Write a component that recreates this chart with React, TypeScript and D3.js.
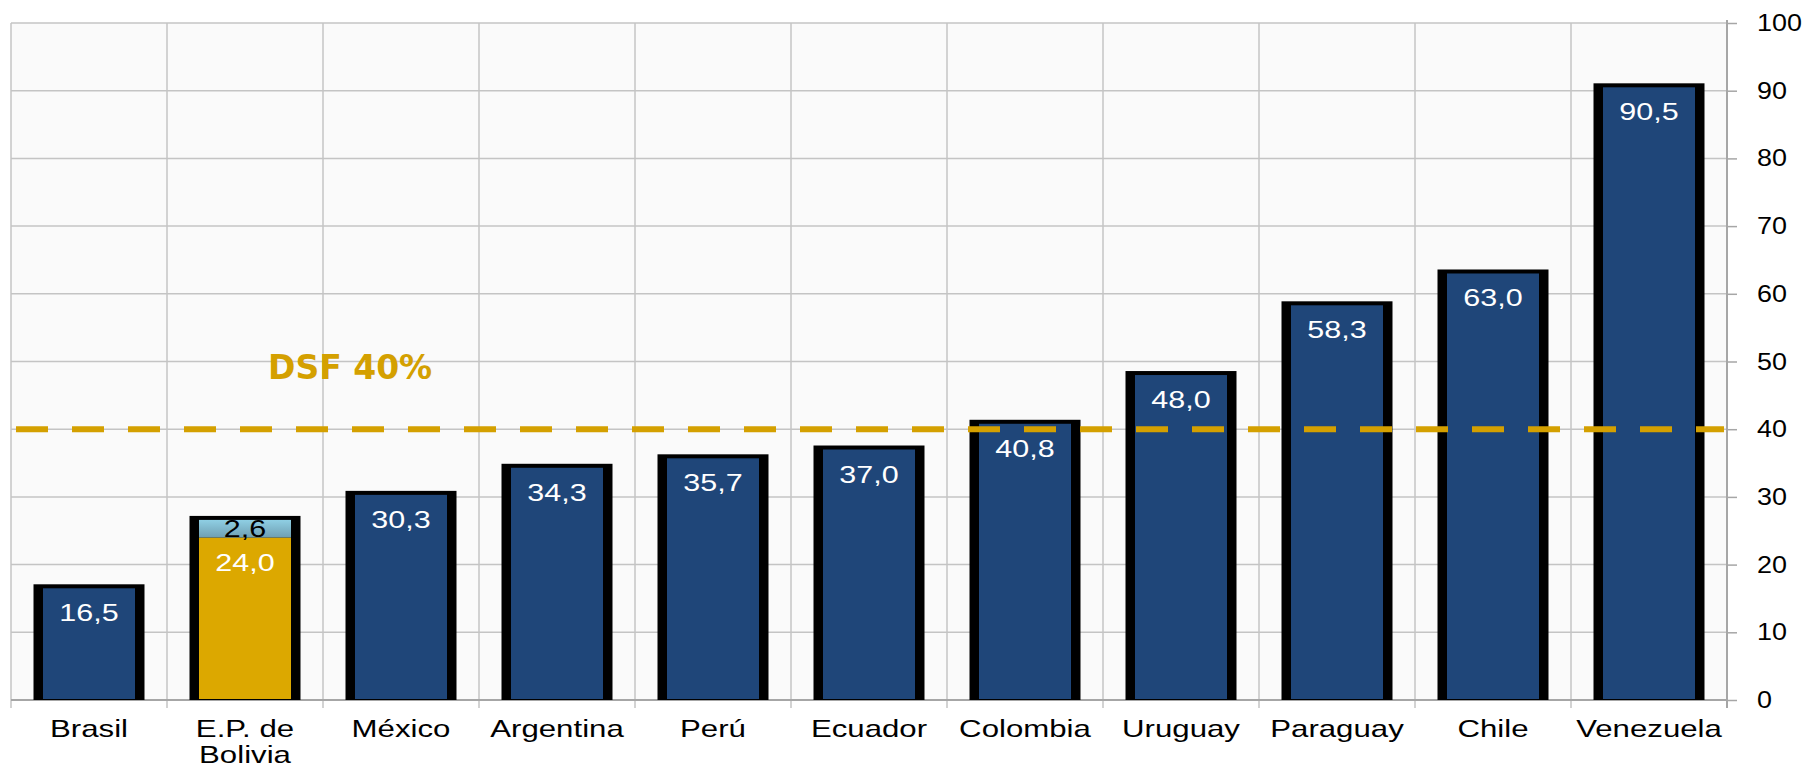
import React, { useEffect, useRef } from 'react';
import * as d3 from 'd3';

const countries = ['Brasil', 'E.P. de\nBolivia', 'México', 'Argentina', 'Perú', 'Ecuador', 'Colombia', 'Uruguay', 'Paraguay', 'Chile', 'Venezuela'];
const baseValues = [16.5, 24.0, 30.3, 34.3, 35.7, 37.0, 40.8, 48.0, 58.3, 63.0, 90.5];
const extraValues = [0, 2.6, 0, 0, 0, 0, 0, 0, 0, 0, 0];
const yTicks = [0, 10, 20, 30, 40, 50, 60, 70, 80, 90, 100];
const threshold = 40;
const thresholdLabel = 'DSF 40%';

const fmt = (v: number) => v.toFixed(1).replace('.', ',');
const FONT = '"Liberation Sans", Arial, sans-serif';

export default function App() {
  const svgRef = useRef<SVGSVGElement>(null);

  useEffect(() => {
    if (!svgRef.current) return;
    const W = 1811, H = 766;
    const left = 11, right = 1727, top = 23, bottom = 700;

    const svg = d3.select(svgRef.current);
    svg.selectAll('*').remove();

    const defs = svg.append('defs');
    const grad = defs.append('linearGradient').attr('id', 'extraGrad')
      .attr('x1', 0).attr('y1', 0).attr('x2', 0).attr('y2', 1);
    grad.append('stop').attr('offset', '0%').attr('stop-color', '#8fcfe4');
    grad.append('stop').attr('offset', '100%').attr('stop-color', '#6f9fb2');

    const x = d3.scaleBand<string>().domain(countries).range([left, right]).padding(0);
    const y = d3.scaleLinear().domain([0, 100]).range([bottom, top]);

    svg.append('rect').attr('x', 0).attr('y', 0).attr('width', W).attr('height', H).attr('fill', '#ffffff');
    svg.append('rect').attr('x', left).attr('y', top).attr('width', right - left).attr('height', bottom - top).attr('fill', '#fafafa');

    // horizontal grid
    svg.append('g').selectAll('line').data(yTicks).enter().append('line')
      .attr('x1', left).attr('x2', right)
      .attr('y1', d => y(d)).attr('y2', d => y(d))
      .attr('stroke', '#c4c4c4').attr('stroke-width', 1.5);

    // vertical grid (band edges)
    const edges = countries.map(c => x(c)!);
    svg.append('g').selectAll('line').data(edges).enter().append('line')
      .attr('x1', d => d).attr('x2', d => d)
      .attr('y1', top).attr('y2', bottom + 8)
      .attr('stroke', '#c4c4c4').attr('stroke-width', 1.5);

    // right axis
    const axis = svg.append('g').attr('transform', `translate(${right},0)`)
      .call(d3.axisRight(y).tickValues(yTicks).tickSize(10).tickPadding(0).tickFormat(() => ''));
    axis.select('.domain').attr('stroke', '#a6a6a6').attr('stroke-width', 2).attr('d', `M0,${top - 3}V${bottom + 8}`);
    axis.selectAll('.tick line').attr('stroke', '#a6a6a6').attr('stroke-width', 1.5);
    svg.append('g').selectAll('text').data(yTicks).enter().append('text')
      .attr('transform', d => `translate(1757,${y(d) + 8}) scale(1.17,1)`)
      .attr('font-family', FONT).attr('font-size', 23).attr('fill', '#000')
      .text(d => String(d));

    // bottom axis line
    svg.append('line').attr('x1', left).attr('x2', right).attr('y1', bottom).attr('y2', bottom)
      .attr('stroke', '#a6a6a6').attr('stroke-width', 2);

    const outerW = 111, innerW = 92;
    const bars = svg.append('g');
    countries.forEach((c, i) => {
      const cx = x(c)! + x.bandwidth() / 2;
      const total = baseValues[i] + extraValues[i];
      bars.append('rect')
        .attr('x', cx - outerW / 2).attr('y', y(total) - 4)
        .attr('width', outerW).attr('height', bottom - y(total) + 4)
        .attr('fill', '#000');
      bars.append('rect')
        .attr('x', cx - innerW / 2).attr('y', y(baseValues[i]))
        .attr('width', innerW).attr('height', bottom - y(baseValues[i]) - 1)
        .attr('fill', extraValues[i] > 0 ? '#dca800' : '#1f4679');
      if (extraValues[i] > 0) {
        bars.append('rect')
          .attr('x', cx - innerW / 2).attr('y', y(total))
          .attr('width', innerW).attr('height', y(baseValues[i]) - y(total))
          .attr('fill', 'url(#extraGrad)');
        bars.append('text')
          .attr('transform', `translate(${cx},${y(total) + 17}) scale(1.27,1)`)
          .attr('text-anchor', 'middle')
          .attr('font-family', FONT)
          .attr('font-size', 24).attr('fill', '#000')
          .text(fmt(extraValues[i]));
      }
      bars.append('text')
        .attr('transform', `translate(${cx},${y(baseValues[i]) + 33}) scale(1.27,1)`)
        .attr('text-anchor', 'middle')
        .attr('font-family', FONT)
        .attr('font-size', 24).attr('fill', '#fff')
        .text(fmt(baseValues[i]));

      const lines = c.split('\n');
      lines.forEach((ln, k) => {
        svg.append('text')
          .attr('transform', `translate(${cx},${737 + k * 26}) scale(1.3,1)`)
          .attr('text-anchor', 'middle')
          .attr('font-family', FONT)
          .attr('font-size', 24).attr('fill', '#000')
          .text(ln);
      });
    });

    // threshold line
    svg.append('line')
      .attr('x1', left + 5).attr('x2', right - 3)
      .attr('y1', y(threshold)).attr('y2', y(threshold))
      .attr('stroke', '#d4a000').attr('stroke-width', 6)
      .attr('stroke-dasharray', '32,24');

    svg.append('text')
      .attr('x', 268).attr('y', 379)
      .attr('font-family', '"DejaVu Sans", Verdana, sans-serif')
      .attr('font-weight', 'bold')
      .attr('font-size', 33).attr('fill', '#d4a000')
      .text(thresholdLabel);
  }, []);

  return (
    <svg ref={svgRef} width={1811} height={766}
      style={{ position: 'absolute', left: 0, top: 0, display: 'block' }} />
  );
}
